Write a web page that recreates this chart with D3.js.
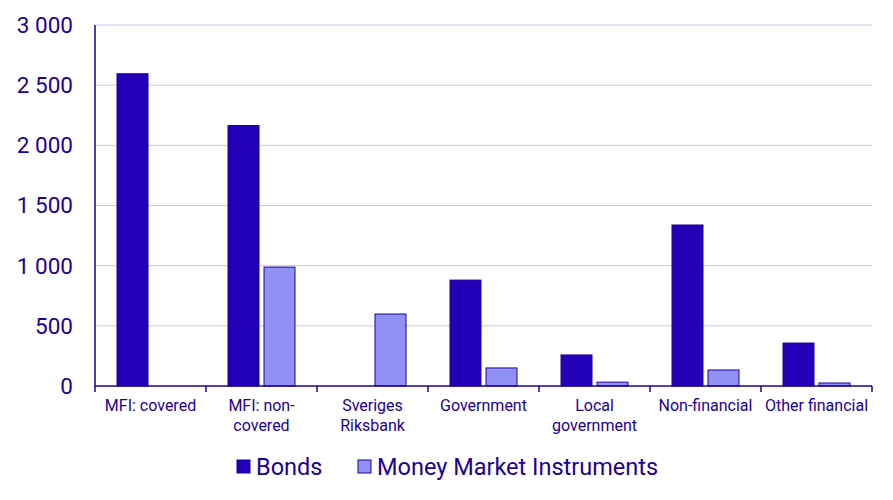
<!DOCTYPE html>
<html><head><meta charset="utf-8">
<script src="https://cdn.jsdelivr.net/npm/d3@7"></script>
<style>body{margin:0;background:#fff;font-family:Roboto,"Noto Sans",sans-serif}</style>
</head><body><svg id="chart"></svg>
<script>
// data
const categories = [["MFI: covered"], ["MFI: non-", "covered"], ["Sveriges", "Riksbank"], ["Government"], ["Local", "government"], ["Non-financial"], ["Other financial"]];
const bonds = [2595, 2165, 0, 880, 258, 1338, 357];
const mmi = [0, 988, 598, 150, 32, 133, 25];
const yTicks = [0, 500, 1000, 1500, 2000, 2500, 3000];

const width = 893, height = 500;
const margin = {left: 95, right: 21, top: 25, bottom: 114};
const ink = "#1e0096";
const bondColor = "#2200b8", mmiColor = "#9191f5";

const svg = d3.select('#chart').attr('width', width).attr('height', height);

const x = d3.scaleBand().domain(d3.range(categories.length))
    .range([margin.left, width - margin.right]);
const y = d3.scaleLinear().domain([0, 3000]).range([height - margin.bottom, margin.top]);
const fmt = v => d3.format(",")(v).replace(/,/g, " ");

// gridlines
svg.append('g').selectAll('line').data(yTicks.filter(d => d > 0)).enter().append('line')
    .attr('x1', margin.left).attr('x2', width - margin.right)
    .attr('y1', d => y(d)).attr('y2', d => y(d))
    .attr('stroke', '#c8c8e6').attr('stroke-width', 1);

// y labels
svg.append('g').selectAll('text').data(yTicks).enter().append('text')
    .attr('x', 73).attr('y', d => y(d)).attr('dy', '0.35em')
    .attr('text-anchor', 'end').attr('fill', ink).style('font-size', '22.5px')
    .text(fmt);

const bw = 31;
const g = svg.append('g');
g.selectAll('.b').data(bonds).enter().append('rect')
    .attr('x', (d, i) => x(i) + 22).attr('width', bw)
    .attr('y', d => y(d)).attr('height', d => y(0) - y(d))
    .attr('fill', bondColor).attr('stroke', ink).attr('stroke-width', d => d ? 1 : 0);
g.selectAll('.m').data(mmi).enter().append('rect')
    .attr('x', (d, i) => x(i) + 58).attr('width', bw)
    .attr('y', d => y(d)).attr('height', d => y(0) - y(d))
    .attr('fill', mmiColor).attr('stroke', ink).attr('stroke-width', d => d ? 1 : 0);

// axes lines
svg.append('line').attr('x1', margin.left).attr('x2', margin.left)
    .attr('y1', margin.top).attr('y2', y(0)).attr('stroke', ink).attr('stroke-width', 1.5);
svg.append('line').attr('x1', margin.left).attr('x2', width - margin.right)
    .attr('y1', y(0)).attr('y2', y(0)).attr('stroke', ink).attr('stroke-width', 1.5);
svg.append('g').selectAll('line').data(d3.range(categories.length + 1)).enter().append('line')
    .attr('x1', i => margin.left + i * x.bandwidth()).attr('x2', i => margin.left + i * x.bandwidth())
    .attr('y1', y(0)).attr('y2', y(0) + 6).attr('stroke', ink).attr('stroke-width', 1.5);

// category labels
const cl = svg.append('g').selectAll('text').data(categories).enter().append('text')
    .attr('x', (d, i) => x(i) + x.bandwidth() / 2).attr('y', 411)
    .attr('text-anchor', 'middle').attr('fill', ink).style('font-size', '16px');
cl.selectAll('tspan').data(d => d).enter().append('tspan')
    .attr('x', function() { return this.parentNode.getAttribute('x'); })
    .attr('dy', (d, j) => j ? 20 : 0).text(d => d);

// legend
const legend = [["Bonds", bondColor], ["Money Market Instruments", mmiColor]];
const lx = [237, 358];
legend.forEach(([name, c], i) => {
    svg.append('rect').attr('x', lx[i]).attr('y', 460).attr('width', 13).attr('height', 13)
        .attr('fill', c).attr('stroke', ink).attr('stroke-width', 1);
    svg.append('text').attr('x', lx[i] + 19).attr('y', 475).attr('fill', ink)
        .style('font-size', '23.5px').text(name);
});
</script></body></html>
